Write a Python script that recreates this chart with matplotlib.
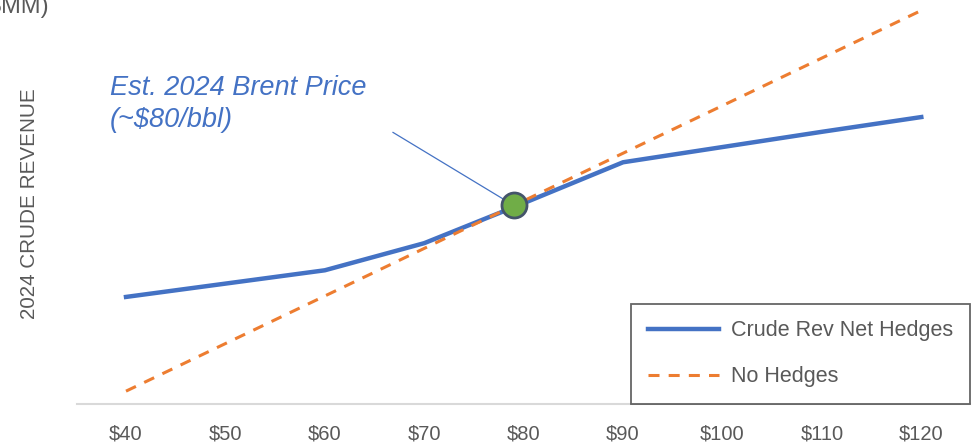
import numpy as np
import matplotlib
matplotlib.use('Agg')
from matplotlib import pyplot as plt

# Brent price scenarios ($/bbl)
prices = [40, 50, 60, 70, 80, 90, 100, 110, 120]
tick_labels = ['$40', '$50', '$60', '$70', '$80', '$90', '$100', '$110', '$120']

# 2024 crude revenue ($MM)
rev_net_hedges = [598, 626, 654, 711, 795, 881, 913, 945, 976]
rev_no_hedges = [400, 500, 600, 700, 800, 900, 1000, 1100, 1200]

# Estimated 2024 Brent price point
est_price = 79
est_rev = 792

blue = '#4472C4'
orange = '#ED7D31'
grey = '#595959'

plt.rcParams['font.family'] = ['Liberation Sans', 'DejaVu Sans']

fig = plt.figure(figsize=(9.74, 4.48), dpi=100)
ax = fig.add_axes([77 / 974, 44 / 448, 893 / 974, 404 / 448])

ax.plot(prices, rev_net_hedges, '-', color=blue, lw=3.2,
        label='Crude Rev Net Hedges', zorder=3)
ax.plot(prices, rev_no_hedges, '--', color=orange, lw=2.2,
        dashes=(3.6, 3), label='No Hedges', zorder=4)

# Marker and callout
ax.plot([est_price], [est_rev], 'o', ms=18, mfc='#70AD47', mec='#44546A',
        mew=2, zorder=5)
ax.annotate('', xy=(est_price - 0.6, est_rev + 6), xytext=(66.6, 947),
            arrowprops=dict(arrowstyle='-', color=blue, lw=0.9))
ax.text(38.4, 1022, 'Est. 2024 Brent Price', color=blue,
        fontsize=19.5, style='italic', va='baseline')
ax.text(38.4, 955, '(~$80/bbl)', color=blue,
        fontsize=19.5, style='italic', va='baseline')

# Axes formatting
ax.set_xlim(35.07, 124.9)
ax.set_ylim(373, 1222)
ax.set_xticks(prices)
ax.set_xticklabels(tick_labels, color=grey, fontsize=14.5)
ax.tick_params(axis='x', length=0, pad=15)
ax.set_yticks([])
for side in ['top', 'right', 'left']:
    ax.spines[side].set_visible(False)
ax.spines['bottom'].set_color('#D9D9D9')
ax.spines['bottom'].set_linewidth(1.5)

leg = ax.legend(loc='lower right', bbox_to_anchor=(1.0, 0.0),
                fontsize=15.5, frameon=True, fancybox=False,
                handlelength=3.3, handletextpad=0.55, borderpad=0.78,
                labelspacing=1.15, borderaxespad=0.0)
leg.get_frame().set_edgecolor('#404040')
leg.get_frame().set_linewidth(1.3)
for t in leg.get_texts():
    t.set_color(grey)

fig.text(30 / 974, 1 - 204 / 448, '2024 CRUDE REVENUE', rotation=90,
         color=grey, fontsize=14.9, ha='center', va='center')
fig.text(49 / 974, 1 - 13 / 448, '($MM)', color=grey, fontsize=17,
         ha='right', va='baseline')

plt.savefig('out.png', dpi=100)
